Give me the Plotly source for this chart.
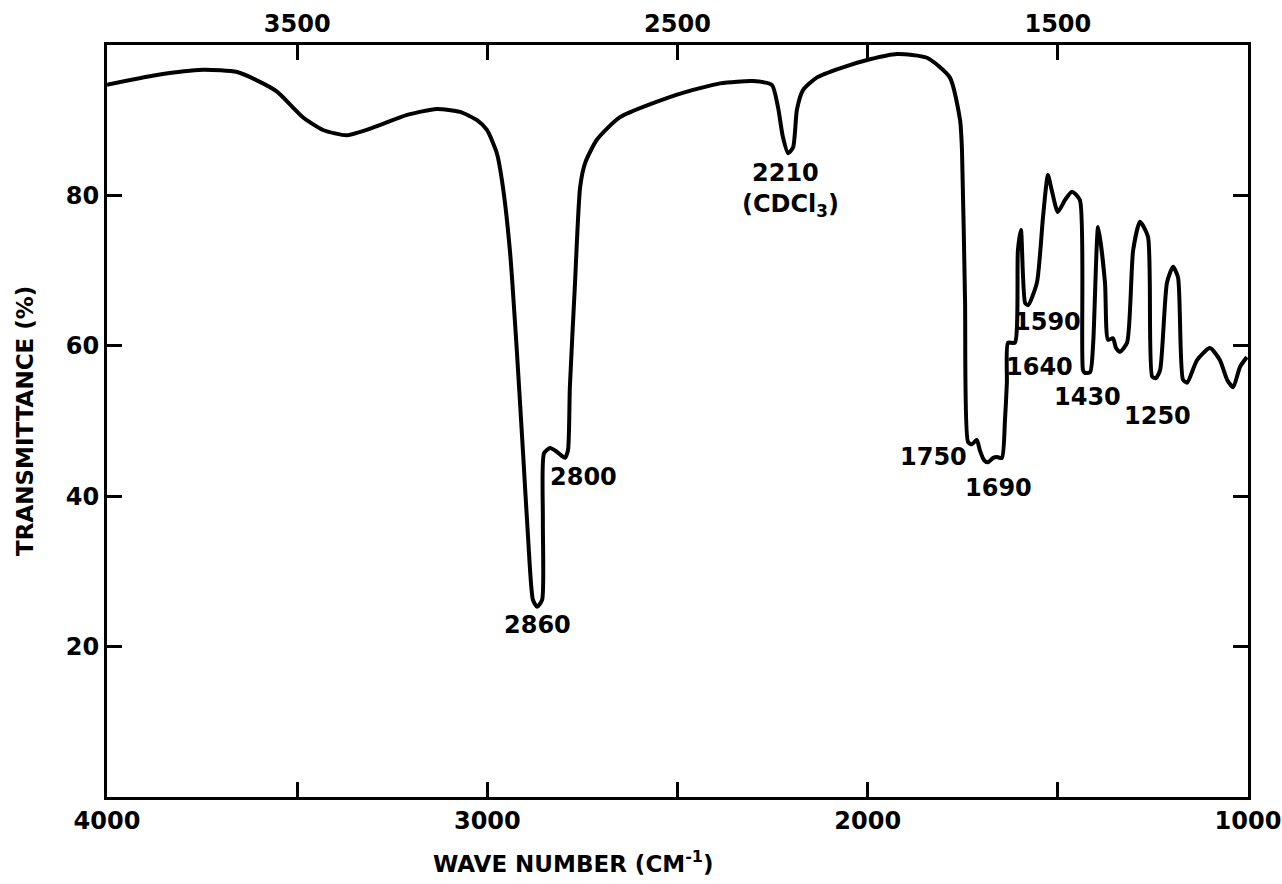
import plotly.graph_objects as go

# IR spectrum trace
wavenumber = [4000, 3869, 3748, 3658, 3606, 3553, 3485, 3432, 3369, 3301, 3211, 3133, 3072, 3027,
              3001, 2975, 2959, 2940, 2922, 2906, 2893, 2880, 2869, 2856, 2854, 2851, 2835, 2817,
              2796, 2788, 2783, 2770, 2756, 2743, 2712, 2651, 2501, 2388, 2301, 2252, 2236, 2223,
              2209, 2196, 2186, 2170, 2133, 2073, 1994, 1923, 1844, 1784, 1757, 1752, 1744, 1736,
              1726, 1713, 1705, 1694, 1684, 1670, 1660, 1647, 1639, 1634, 1631, 1613, 1605, 1597,
              1586, 1578, 1555, 1539, 1526, 1516, 1500, 1481, 1463, 1442, 1434, 1429, 1415, 1407,
              1394, 1376, 1368, 1355, 1347, 1337, 1318, 1302, 1284, 1263, 1252, 1242, 1231, 1213,
              1197, 1184, 1171, 1160, 1134, 1100, 1074, 1055, 1039, 1021, 1003]
transmittance = [94.7, 96.0, 96.7, 96.4, 95.3, 93.8, 90.4, 88.7, 88.0, 89.0, 90.7, 91.5, 91.1, 90.0,
                 88.7, 85.6, 81.1, 72.3, 59.0, 45.7, 34.6, 26.2, 25.3, 26.2, 36.8, 45.7, 46.4, 45.9,
                 45.1, 46.1, 54.5, 67.8, 81.1, 84.3, 87.4, 90.4, 93.4, 94.9, 95.2, 94.7, 91.8, 87.8,
                 85.6, 86.4, 91.4, 94.0, 95.7, 96.9, 98.1, 98.8, 98.3, 95.7, 90.0, 86.0, 66.1, 47.2,
                 46.9, 47.5, 46.1, 44.8, 44.5, 45.1, 45.2, 45.1, 50.1, 55.1, 60.4, 60.4, 72.7, 75.4,
                 65.7, 65.4, 68.4, 77.1, 82.7, 80.7, 77.8, 79.4, 80.5, 79.4, 56.8, 56.4, 56.5, 60.4,
                 75.8, 68.4, 60.8, 61.0, 59.7, 59.2, 60.4, 72.7, 76.5, 74.5, 55.9, 55.7, 56.8, 68.4,
                 70.5, 69.1, 55.5, 55.1, 58.1, 59.7, 58.1, 55.5, 54.5, 57.2, 58.5]

# Peak labels
peak_text = ["2860", "2800", "2210", "(CDCl<sub>3</sub>)", "1750", "1690", "1590", "1640", "1430", "1250"]
peak_x = [2867, 2746, 2217, 2204, 1828, 1655, 1528, 1547, 1423, 1239]
peak_y = [22.9, 42.6, 83.0, 78.7, 45.2, 41.1, 63.2, 57.2, 53.2, 50.7]

bottom_ticks = [4000, 3000, 2000, 1000]
top_ticks = [3500, 2500, 1500]
minor_step = 500
y_ticks = [20, 40, 60, 80]

FONT = "DejaVu Sans"
L, R, T, B = 107, 34, 45, 87
PW, PH = 1282 - L - R, 884 - T - B

fig = go.Figure()
fig.add_trace(go.Scatter(x=wavenumber, y=transmittance, mode="lines",
                         line=dict(color="black", width=4, shape="spline", smoothing=0.6),
                         hoverinfo="skip", showlegend=False))
fig.add_trace(go.Scatter(x=wavenumber, y=transmittance, mode="lines", xaxis="x2",
                         line=dict(color="rgba(0,0,0,0)", width=0),
                         hoverinfo="skip", showlegend=False))

for t, x, y in zip(peak_text, peak_x, peak_y):
    fig.add_annotation(x=x, y=y, text=t, showarrow=False, xanchor="center", yanchor="middle",
                       font=dict(family=FONT, size=24, color="black", weight="bold"))

fig.add_annotation(xref="paper", yref="paper", x=(573 - L) / PW, y=-(862 - (884 - B)) / PH,
                   xanchor="center", yanchor="middle",
                   text="WAVE NUMBER (CM<sup>-1</sup>)", showarrow=False,
                   font=dict(family=FONT, size=23, color="black", weight="bold"))
fig.add_annotation(xref="paper", yref="paper", x=-(L - 25) / PW, y=0.5, textangle=-90,
                   xanchor="center", yanchor="middle",
                   text="TRANSMITTANCE (%)", showarrow=False,
                   font=dict(family=FONT, size=23, color="black", weight="bold"))

axis_common = dict(showgrid=False, zeroline=False, showline=True, linecolor="black", linewidth=3,
                   ticks="inside", ticklen=15, tickwidth=3, tickcolor="black", automargin=False,
                   tickfont=dict(family=FONT, size=24, color="black", weight="bold"))
minor_x = dict(ticks="inside", ticklen=15, tickwidth=3, tickcolor="black",
               tick0=1000, dtick=minor_step, showgrid=False)

fig.update_layout(
    width=1282, height=884,
    margin=dict(l=L, r=R, t=T, b=B, autoexpand=False),
    paper_bgcolor="white", plot_bgcolor="white",
    xaxis=dict(range=[4000, 1000], tickvals=bottom_ticks, mirror=True, minor=minor_x,
               **axis_common),
    xaxis2=dict(range=[4000, 1000], overlaying="x", side="top", tickvals=top_ticks,
                minor=minor_x, **axis_common),
    yaxis=dict(range=[0, 100], tickvals=y_ticks, mirror="ticks", **axis_common),
)

fig.write_html("out.html", config={"displayModeBar": False},
               post_script="document.body.style.margin='0px';document.body.style.overflow='hidden';")
